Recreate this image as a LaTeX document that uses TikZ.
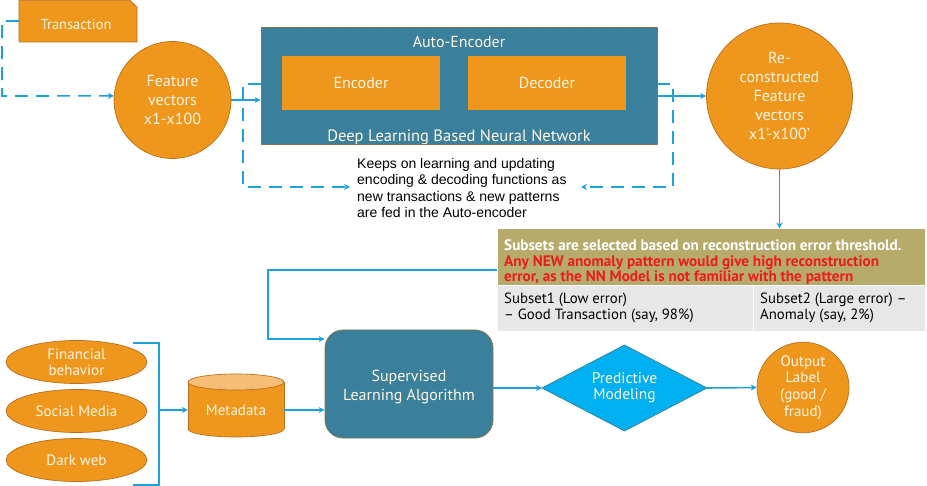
\documentclass[tikz,border=0pt]{standalone}
\usepackage{fontspec}
\setmainfont{PT Sans}
\newfontfamily\arialf{Liberation Sans}
\usetikzlibrary{shapes.geometric,arrows.meta}
\definecolor{org}{RGB}{239,150,28}
\definecolor{orgd}{RGB}{185,112,32}
\definecolor{orgl}{RGB}{245,190,118}
\definecolor{tealc}{RGB}{58,127,155}
\definecolor{tealbd}{RGB}{135,118,78}
\definecolor{connc}{RGB}{28,160,222}
\definecolor{diac}{RGB}{0,176,240}
\definecolor{diabd}{RGB}{60,128,150}
\definecolor{khaki}{RGB}{183,171,108}
\definecolor{lgrey}{RGB}{231,231,231}
\definecolor{wtxt}{RGB}{255,246,228}
\definecolor{redt}{RGB}{236,28,28}
\newcommand\myfs[2]{\fontsize{#1}{#2}\selectfont}
\begin{document}
\begin{tikzpicture}[x=1pt,y=-1pt,
  conn/.style={draw=connc, line width=1.6pt, -{Stealth[length=6pt,width=6pt]}},
  dconn/.style={conn, dash pattern=on 13pt off 8pt},
  plainline/.style={draw=connc, line width=1.6pt},
  orgnode/.style={fill=org, draw=orgd, line width=0.7pt, text=wtxt, align=center, inner sep=0pt},
  tealnode/.style={fill=tealc, draw=tealbd, line width=0.8pt, text=wtxt, align=center, inner sep=0pt},
  lbl/.style={text=wtxt, align=center, inner sep=0pt},
  cell/.style={draw=white, line width=1pt, inner sep=0pt},
]
\useasboundingbox (0,0) rectangle (927,486);

% Transaction (snipped corner)
\filldraw[fill=org, draw=orgd, line width=0.7pt] (19,0.4) -- (130,0.4) -- (137,7) -- (137,42) -- (19,42) -- cycle;
\node[lbl, minimum width=118, minimum height=42, font=\myfs{14.5}{16}] (trans) at (78,21) {};
\node[lbl, font=\myfs{14.5}{16}] (transt) at (76,24) {Transaction};

% Feature vectors
\node[orgnode, circle, minimum size=117, font=\myfs{16}{19}] (fv) at (172.5,100) {Feature\\vectors\\x1-x100};

% Auto-encoder
\node[tealnode, minimum width=396, minimum height=117] (ae) at (459,85.5) {};
\node[lbl, font=\myfs{16}{19}] (aet) at (459,42) {Auto-Encoder};
\node[orgnode, draw=none, minimum width=158, minimum height=54, font=\myfs{16}{19}] (enc) at (361,83) {Encoder};
\node[orgnode, draw=none, minimum width=158, minimum height=54, font=\myfs{16}{19}] (dec) at (547,83) {Decoder};
\begin{scope}
\clip (261,27) rectangle (657,144);
\node[lbl, anchor=base, font=\myfs{16.5}{19}] (dlt) at (459,142) {Deep Learning Based Neural Network};
\end{scope}

% Reconstructed
\node[orgnode, circle, minimum size=146, font=\myfs{16}{19}] (rc) at (779.5,96) {Re-\\constructed\\Feature\\vectors\\x1’-x100’};

% Feedback text
\node[anchor=west, align=left, inner sep=0pt, font=\arialf\myfs{14}{16.6}] (keep) at (357,188) {Keeps on learning and updating\\encoding \& decoding functions as\\new transactions \& new patterns\\are fed in the Auto-encoder};
\coordinate (kL) at (350,187);
\coordinate (kR) at (581,187);

% connectors top
\draw[dconn] (trans.west) -- (2,21) -- (2,96) -- (fv.176);
\draw[conn] (fv.east) -- (fv.east -| ae.west);
\draw[dconn] (ae.west |- 0,84) -- (243,84) -- (243,187) -- (kL);
\draw[dconn] (ae.east |- 0,84) -- (673,84) -- (673,187) -- (kR);
\draw[conn] (ae.east |- rc.west) -- (rc.west);

% Table
\node[cell, fill=khaki, minimum width=428, minimum height=57] (hdr) at (711,257.5) {};
\node[anchor=west, align=left, inner sep=0pt, text=white, font=\bfseries\myfs{15.2}{15.5}] (hdrt) at (504,262.5)
  {Subsets are selected based on reconstruction error threshold.\\
   \textcolor{redt}{Any NEW anomaly pattern would give high reconstruction}\\
   \textcolor{redt}{error, as the NN Model is not familiar with the pattern}};
\node[cell, fill=lgrey, minimum width=256, minimum height=46] (c1) at (625,309) {};
\node[cell, fill=lgrey, minimum width=172, minimum height=46] (c2) at (839,309) {};
\node[anchor=west, align=left, inner sep=0pt, font=\myfs{14.8}{15.5}] (c1t) at (504,308) {Subset1 (Low error)\\– Good Transaction (say, 98\%)};
\node[anchor=west, align=left, inner sep=0pt, font=\myfs{14.8}{15.5}] (c2t) at (760,308) {Subset2 (Large error) –\\Anomaly (say, 2\%)};
\draw[conn] (rc.south) -- (rc.south |- hdr.north);

% Sources
\node[orgnode, ellipse, minimum width=141, minimum height=43, font=\myfs{15}{16}] (fin) at (76.5,362) {Financial\\behavior};
\node[orgnode, ellipse, minimum width=141, minimum height=43, font=\myfs{15}{16}] (soc) at (76.5,411) {Social Media};
\node[orgnode, ellipse, minimum width=141, minimum height=43, font=\myfs{15}{16}] (dark) at (76.5,460) {Dark web};
\coordinate (brT) at (133,343);
\coordinate (brB) at (133,485);
\coordinate (brM) at (159,410);
\draw[plainline] (brT) -- (159,343) -- (159,485) -- (brB);

% Metadata cylinder
\filldraw[fill=org, draw=orgd, line width=0.7pt] (236,429) ellipse [x radius=48, y radius=8];
\fill[org] (188,382) rectangle (284,429);
\draw[orgd, line width=0.7pt] (188,382) -- (188,429) (284,382) -- (284,429);
\filldraw[fill=orgl, draw=orgd, line width=0.7pt] (236,382) ellipse [x radius=48, y radius=8];
\node[lbl, minimum width=96, minimum height=63, font=\myfs{15}{16}] (md) at (236,410) {Metadata};
\draw[conn] (brM) -- (md.west);

% Supervised
\node[tealnode, rounded corners=18pt, minimum width=168, minimum height=108, font=\myfs{16}{19}] (sla) at (409,384) {\\[-2pt]Supervised\\Learning Algorithm};
\draw[conn] (md.east) -- (md.east -| sla.west);
\draw[conn] (hdr.west |- 0,270) -- (268,270) -- (268,339) -- (sla.west |- 0,339);

% Predictive modeling
\filldraw[fill=diac, draw=diabd, line width=0.7pt] (542,388) -- (624.5,345) -- (707,388) -- (624.5,431) -- cycle;
\node[lbl, minimum width=165, minimum height=86, font=\myfs{15.5}{16}] (pm) at (624.5,388) {Predictive\\Modeling};
\draw[conn] (sla.east |- pm.west) -- (pm.west);

% Output
\node[orgnode, ellipse, minimum width=92, minimum height=87, font=\myfs{15}{16.7}] (out) at (803,387.5) {Output\\Label\\(good /\\fraud)};
\draw[conn] (pm.east) -- (out.west);
\end{tikzpicture}
\end{document}
